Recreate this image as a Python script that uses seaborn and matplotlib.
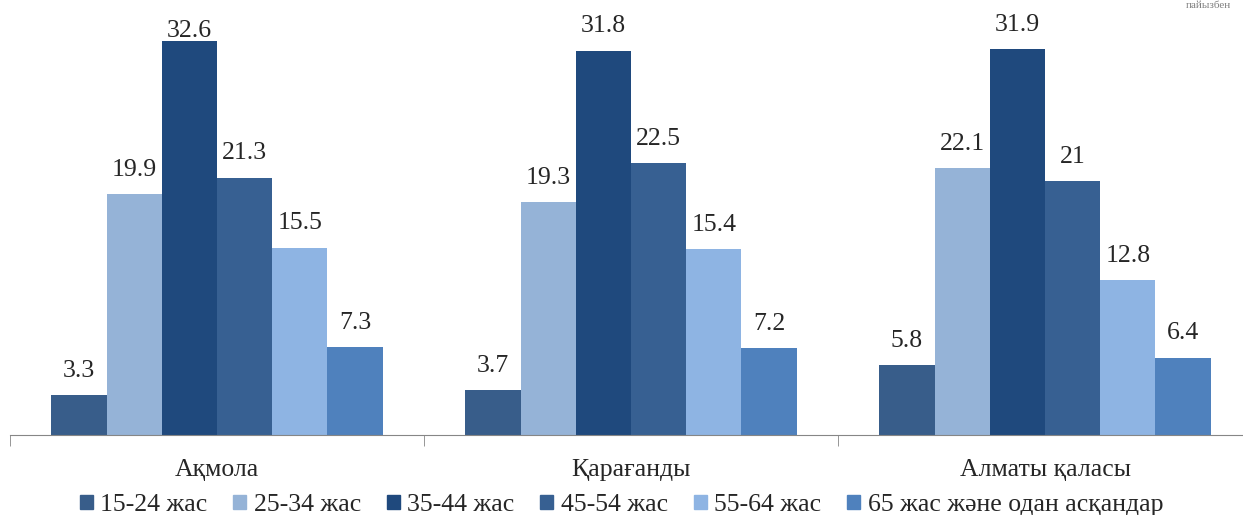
# plot.py
import pandas as pd
import seaborn as sns
import matplotlib.pyplot as plt

# data
regions = ['Ақмола', 'Қарағанды', 'Алматы қаласы']
ages = ['15-24 жас', '25-34 жас', '35-44 жас', '45-54 жас', '55-64 жас',
        '65 жас және одан асқандар']
v_15_24 = [3.3, 3.7, 5.8]
v_25_34 = [19.9, 19.3, 22.1]
v_35_44 = [32.6, 31.8, 31.9]
v_45_54 = [21.3, 22.5, 21]
v_55_64 = [15.5, 15.4, 12.8]
v_65 = [7.3, 7.2, 6.4]
colors = ['#385D8A', '#95B3D7', '#1F497D', '#376092', '#8EB4E3', '#4F81BD']

rows = []
for age, vals in zip(ages, [v_15_24, v_25_34, v_35_44, v_45_54, v_55_64, v_65]):
    for reg, v in zip(regions, vals):
        rows.append({'region': reg, 'age': age, 'value': v})
df = pd.DataFrame(rows)

sns.set_style("white")
plt.rcParams['font.family'] = ['Liberation Serif', 'DejaVu Serif']
fs = 18.5

fig = plt.figure(figsize=(12.43, 5.15), dpi=100)
ax = fig.add_axes([10 / 1243, 80 / 515, 1242 / 1243, 423 / 515])

sns.barplot(data=df, x='region', y='value', hue='age', palette=colors,
            width=0.8, saturation=1, ax=ax, legend=False,
            edgecolor='none', linewidth=0)

for cont in ax.containers:
    labels = ['{:g}'.format(b.get_height()) for b in cont]
    texts = ax.bar_label(cont, labels=labels, padding=9.5, fontsize=fs)
    # the tallest label is squeezed against the bar, as in the reference
    for t, b in zip(texts, cont):
        if b.get_height() > 32.2:
            t.xyann = (0, -1)

ax.set_xlim(-0.5, 2.5)
ax.set_ylim(0, 35)
ax.set_xlabel('')
ax.set_ylabel('')
ax.set_yticks([])
for s in ['top', 'right', 'left']:
    ax.spines[s].set_visible(False)
ax.spines['bottom'].set_color('#868686')
ax.set_xticks([-0.5, 0.5, 1.5, 2.5], minor=True)
ax.tick_params(axis='x', which='major', length=0, pad=17, labelsize=fs)
ax.tick_params(axis='x', which='minor', length=8, color='#868686', bottom=True)

handles = [plt.Rectangle((0, 0), 1, 1, color=c) for c in colors]
fig.legend(handles, ages, loc='center', bbox_to_anchor=(0.5, 10 / 515), ncol=6,
           frameon=False, fontsize=fs, handlelength=0.5, handleheight=0.5,
           handletextpad=0.3, columnspacing=1.0)

# small note at the top right (cut off in the reference)
fig.text(0.99, 0.999, 'пайызбен', ha='right', va='top', color='#7f7f7f', fontsize=8)

fig.savefig('out.png', dpi=100)
